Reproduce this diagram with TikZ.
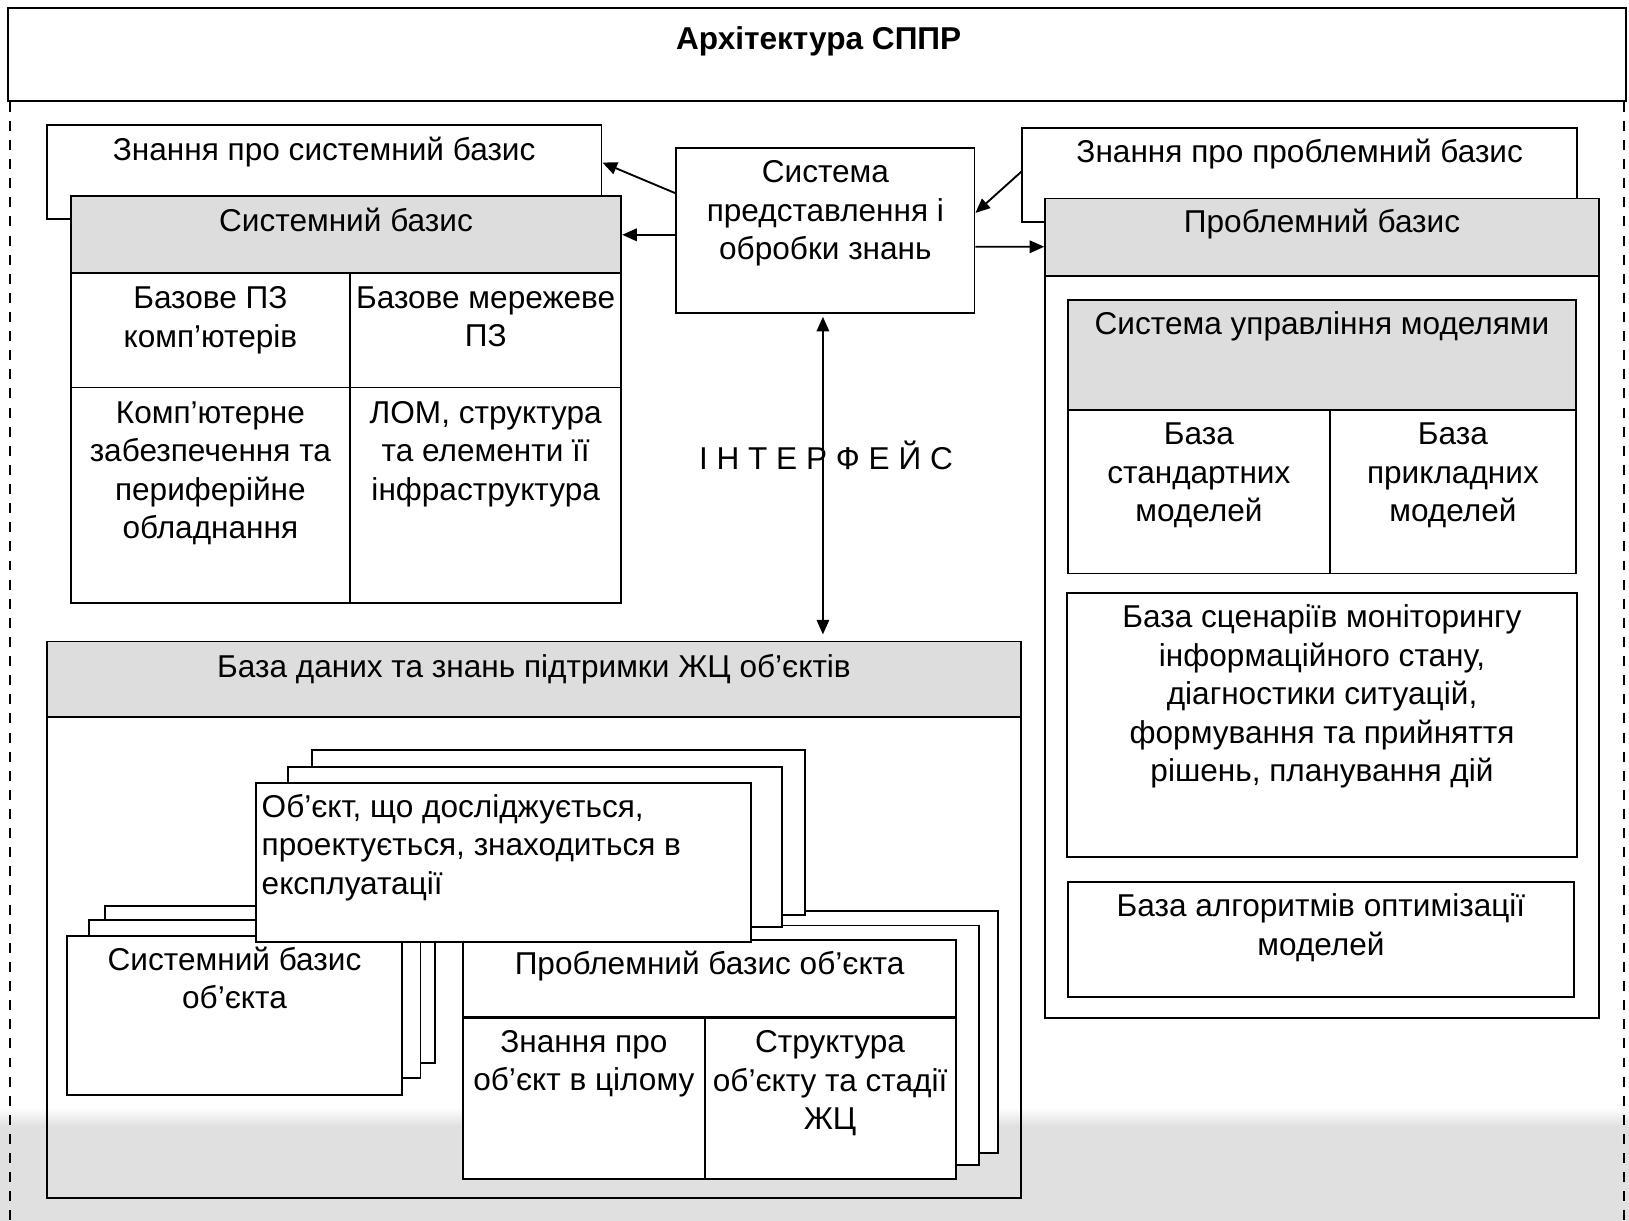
\documentclass[tikz,border=0pt]{standalone}
\usepackage{fontspec}
\setmainfont{Liberation Sans}
\usetikzlibrary{arrows.meta,fit}

\definecolor{hdr}{RGB}{221,221,221}
\definecolor{band}{RGB}{224,224,224}
\newcommand\tstrut{\rule{0pt}{13pt}}
\newcommand\fsz{\fontsize{15.2pt}{18.5pt}\selectfont}

\tikzset{
  box/.style={draw, line width=0.9pt, fill=white, inner sep=0pt},
  hbox/.style={box, fill=hdr},
  obox/.style={draw, line width=0.9pt, inner sep=0pt},
  txt/.style={anchor=north, inner sep=0pt, align=center, font=\fsz,
              execute at begin node=\tstrut},
  ltxt/.style={txt, anchor=north west, align=left},
  arr/.style={line width=0.9pt, -{Triangle[length=7pt,width=6pt]}},
  dblarr/.style={line width=0.9pt, {Triangle[length=7pt,width=6pt]}-{Triangle[length=7pt,width=6pt]}},
  side/.style={line width=1.1pt, dash pattern=on 4.8pt off 4.4pt}
}

\begin{document}
\begin{tikzpicture}[x=0.5pt, y=-0.5pt]
\useasboundingbox (0,0) rectangle (1568,1175);

% background and lower band
\fill[white] (0,0) rectangle (1568,1175);
\shade[top color=white, bottom color=band] (0,1066) rectangle (1568,1084);
\fill[band] (0,1084) rectangle (1568,1175);

% title and dashed frame sides
\node[box, fit={(8,8)(1565,97)}] (title) {};
\node[txt, font=\fsz\bfseries] at (788,21) {Архітектура СППР};
\draw[side] (title.south west) ++(2.5,0) -- ++(0,1080);
\draw[side] (title.south east) ++(-3,0) -- ++(0,1080);

% system basis
\node[box, fit={(45,120)(579,211)}] (ksys) {};
\node[txt] at (312,128) {Знання про системний базис};
\node[hbox, fit={(68,189)(598,263)}] (sbh) {};
\node[txt] at (333,196) {Системний базис};
\node[box, fit={(68,263)(337,373)}] (c11) {};
\node[box, fit={(337,263)(598,373)}] (c12) {};
\node[box, fit={(68,373)(337,580)}] (c21) {};
\node[box, fit={(337,373)(598,580)}] (c22) {};
\node[txt] at (202.5,275.5) {Базове ПЗ\\комп’ютерів};
\node[txt] at (467.5,275.5) {Базове мережеве\\ПЗ};
\node[txt] at (202.5,386) {Комп’ютерне\\забезпечення та\\периферійне\\обладнання};
\node[txt] at (467.5,386) {ЛОМ, структура\\та елементи її\\інфраструктура};

% knowledge processing system
\node[box, fit={(651,142.5)(938,301)}] (central) {};
\node[txt] at (794.5,154.5) {Система\\представлення і\\обробки знань};

% problem basis
\node[box, fit={(984,123)(1518,213.5)}] (kprob) {};
\node[txt] at (1251,130) {Знання про проблемний базис};
\node[hbox, fit={(1006,191)(1539,266)}] (pbh) {};
\node[txt] at (1272.5,197) {Проблемний базис};
\node[obox, fit={(1006,266)(1539,980)}] (pb) {};
\node[hbox, fit={(1028,289)(1517,395)}] (sumh) {};
\node[txt] at (1272.5,296) {Система управління моделями};
\node[box, fit={(1028,395)(1280,552)}] (s1) {};
\node[box, fit={(1280,395)(1517,552)}] (s2) {};
\node[txt] at (1154,407) {База\\стандартних\\моделей};
\node[txt] at (1398.5,407) {База\\прикладних\\моделей};
\node[box, fit={(1027,571)(1518,825)}] (scen) {};
\node[txt] at (1272.5,582) {База сценаріїв моніторингу\\інформаційного стану,\\діагностики ситуацій,\\формування та прийняття\\рішень, планування дій};
\node[box, fit={(1028,849)(1515,960)}] (alg) {};
\node[txt] at (1271.5,860) {База алгоритмів оптимізації\\моделей};

% life-cycle database
\node[hbox, fit={(45.5,617.5)(983,690)}] (dbh) {};
\node[txt] at (514,626) {База даних та знань підтримки ЖЦ об’єктів};
\node[obox, fit={(45.5,690)(983,1153)}] (db) {};

% object system basis stack
\node[box, fit={(101,871.7)(419,1023)}] (so3) {};
\node[box, fit={(85.4,885.5)(404.7,1038)}] (so2) {};
\node[box, fit={(64.5,900.7)(387,1054)}] (so1) {};
\node[txt] at (225.7,911) {Системний базис\\об’єкта};

% object problem basis stack
\node[box, fit={(489,877)(961,1110)}] (po3) {};
\node[box, fit={(468,890.8)(942,1121)}] (po2) {};
\node[box, fit={(445.7,904.5)(920,978.5)}] (po1h) {};
\node[box, fit={(445.7,978.5)(678.5,1134.8)}] (po1a) {};
\node[box, fit={(678.5,978.5)(920,1134.8)}] (po1b) {};
\draw[line width=1.6pt] (po1h.south west) -- (po1h.south east);
\node[txt] at (683,912) {Проблемний базис об’єкта};
\node[txt] at (562,991.5) {Знання про\\об’єкт в цілому};
\node[txt] at (799,991.5) {Структура\\об’єкту та стадії\\ЖЦ};

% object stack
\node[box, fit={(300,721.6)(775,880.5)}] (ob3) {};
\node[box, fit={(277,738.5)(752.5,892)}] (ob2) {};
\node[box, fit={(246.6,754)(722.8,907)}] (ob1) {};
\node[ltxt] at (251.5,764) {Об’єкт, що досліджується,\\проектується, знаходиться в\\експлуатації};

% connectors
\draw[arr] ([yshift=17.9pt]central.west) -- ([yshift=4.5pt]ksys.east);
\draw[arr] (central.west |- sbh.east) -- (sbh.east);
\draw[arr] ([yshift=1.5pt]kprob.west) -- ([yshift=8.4pt]central.east);
\draw[arr] ([yshift=-7.9pt]central.east) -- ([yshift=-4.5pt]pbh.west);
\coordinate (ifc) at ([xshift=-1.2pt]central.south);
\draw[dblarr, shorten <=1.5pt, shorten >=3pt] (ifc) -- (ifc |- dbh.north);
\node[txt] (iface) at (795,424) {І Н Т Е Р Ф Е Й С};
\end{tikzpicture}
\end{document}
